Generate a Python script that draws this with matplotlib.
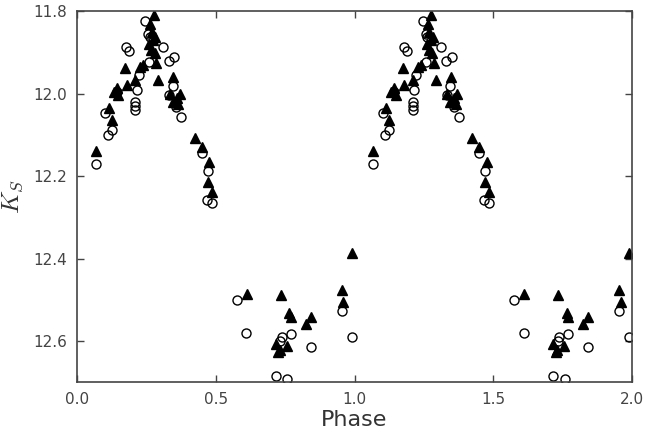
import matplotlib
matplotlib.use("Agg")
import matplotlib.pyplot as plt
import numpy as np

plt.rcParams['mathtext.fontset'] = 'cm'

# Phase-folded K_S light curve; open circles and filled triangles are the two data sets
circ_phase = [0.068, 0.110, 0.125, 0.101, 0.177, 0.189, 0.209, 0.209, 0.209, 0.215,
              0.223, 0.259, 0.245, 0.256, 0.262, 0.310, 0.330, 0.350, 0.332, 0.357,
              0.375, 0.450, 0.472, 0.467, 0.485, 0.345, 0.143,
              0.575, 0.609, 0.738, 0.733, 0.770, 0.843, 0.954, 0.990, 0.717, 0.758]
circ_mag = [12.171, 12.100, 12.088, 12.047, 11.886, 11.895, 12.020, 12.030, 12.040, 11.990,
            11.954, 11.923, 11.822, 11.855, 11.862, 11.886, 11.920, 11.910, 12.003, 12.032,
            12.056, 12.144, 12.188, 12.258, 12.265, 11.980, 11.995,
            12.501, 12.580, 12.591, 12.600, 12.584, 12.616, 12.527, 12.590, 12.686, 12.693]

tri_phase = [0.068, 0.173, 0.143, 0.133, 0.148, 0.115, 0.125, 0.179, 0.209, 0.227,
             0.239, 0.277, 0.263, 0.270, 0.275, 0.260, 0.280, 0.285, 0.293, 0.347,
             0.335, 0.360, 0.370, 0.345, 0.365, 0.425, 0.449, 0.477, 0.472, 0.485,
             0.611, 0.734, 0.764, 0.770, 0.843, 0.825, 0.954, 0.960, 0.990,
             0.717, 0.731, 0.756, 0.725, 0.268, 0.282]
tri_mag = [12.138, 11.938, 11.986, 11.995, 12.003, 12.035, 12.064, 11.979, 11.966, 11.934,
           11.930, 11.808, 11.830, 11.850, 11.870, 11.880, 11.900, 11.925, 11.966, 11.960,
           12.000, 12.010, 12.000, 12.020, 12.025, 12.107, 12.130, 12.166, 12.214, 12.238,
           12.487, 12.489, 12.533, 12.542, 12.542, 12.559, 12.477, 12.505, 12.386,
           12.608, 12.622, 12.613, 12.627, 11.893, 11.862]

cp = np.array(circ_phase)
tp = np.array(tri_phase)

fig = plt.figure(figsize=(6.6, 4.32), dpi=100)
ax = fig.add_axes([0.1167, 0.1157, 0.8409, 0.8577])

# plot two cycles
ax.plot(np.concatenate([cp, cp + 1]), circ_mag * 2, 'o', mfc='none', mec='black',
        mew=1.0, ms=6.5)
ax.plot(np.concatenate([tp, tp + 1]), tri_mag * 2, '^', color='black', ms=6.5)

ax.set_xlim(0, 2.0)
ax.set_ylim(12.7, 11.8)
ax.set_xticks([0.0, 0.5, 1.0, 1.5, 2.0])
ax.set_yticks([11.8, 12.0, 12.2, 12.4, 12.6])
ax.xaxis.set_major_formatter(plt.FormatStrFormatter('%.1f'))
ax.yaxis.set_major_formatter(plt.FormatStrFormatter('%.1f'))
ax.tick_params(direction='in', top=True, right=True, length=5, width=1,
               labelsize=11, labelcolor='#444444', color='#444444', pad=7)
for s in ax.spines.values():
    s.set_color('#444444')
    s.set_linewidth(1.2)

ax.set_xlabel('Phase', fontsize=16, color='#333333', labelpad=2)
ax.set_ylabel('$K_S$', fontsize=18, color='#333333', labelpad=6)

fig.savefig('out.png', dpi=100)
